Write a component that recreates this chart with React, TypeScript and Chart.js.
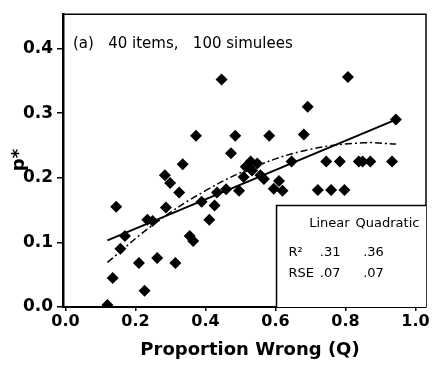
import React, { useEffect, useRef } from "react";
import { Chart, registerables } from "chart.js";

Chart.register(...registerables);

// ---- data ----
const proportionWrong = [
  0.12, 0.135, 0.145, 0.157, 0.17, 0.21, 0.226, 0.234, 0.249, 0.262,
  0.284, 0.299, 0.287, 0.314, 0.325, 0.335, 0.355, 0.365, 0.373, 0.389,
  0.411, 0.426, 0.433, 0.446, 0.459, 0.473, 0.485, 0.496, 0.509, 0.515,
  0.529, 0.533, 0.548, 0.557, 0.567, 0.582, 0.595, 0.61, 0.62, 0.646,
  0.681, 0.692, 0.721, 0.745, 0.759, 0.784, 0.797, 0.807, 0.838, 0.849,
  0.871, 0.933, 0.944,
];
const pStar = [
  0.003, 0.045, 0.155, 0.09, 0.11, 0.068, 0.025, 0.135, 0.133, 0.076,
  0.204, 0.192, 0.154, 0.068, 0.177, 0.221, 0.11, 0.102, 0.265, 0.163,
  0.135, 0.157, 0.177, 0.352, 0.182, 0.238, 0.265, 0.18, 0.201, 0.217,
  0.225, 0.211, 0.222, 0.204, 0.198, 0.265, 0.183, 0.195, 0.18, 0.225,
  0.267, 0.31, 0.181, 0.225, 0.181, 0.225, 0.181, 0.356, 0.225, 0.225,
  0.225, 0.225, 0.29,
];
const linearFitQ = [0.12, 0.944];
const linearFitP = [0.103, 0.29];
const quadFitQ = [0.12, 0.25, 0.4, 0.55, 0.7, 0.85, 0.944];
const quadFitP = [0.069, 0.127, 0.18, 0.219, 0.244, 0.254, 0.252];

const xTicks = [0, 0.2, 0.4, 0.6, 0.8, 1.0];
const yTicks = [0, 0.1, 0.2, 0.3, 0.4];

const panelTitle = "(a)   40 items,   100 simulees";
const xTitle = "Proportion Wrong (Q)";
const yTitle = "p*";
const statColumns = ["Linear", "Quadratic"];
const statRows = ["R²", "RSE"];
const linearStats = [".31", ".07"];
const quadraticStats = [".36", ".07"];

const W = 435;
const H = 376;

const decorPlugin = {
  id: "decor",
  afterDatasetsDraw(chart: any) {
    const { ctx, chartArea: a, scales } = chart;
    const x = scales.x;
    const y = scales.y;
    ctx.save();
    ctx.strokeStyle = "#000";
    ctx.fillStyle = "#000";

    // frame top and right
    ctx.lineWidth = 1.5;
    ctx.beginPath();
    ctx.moveTo(a.left, a.top);
    ctx.lineTo(a.right, a.top);
    ctx.lineTo(a.right, a.bottom);
    ctx.stroke();

    // statistics box
    const bx = x.getPixelForValue(0.603);
    const by = y.getPixelForValue(0.157);
    ctx.fillStyle = "#fff";
    ctx.fillRect(bx, by, a.right - bx, a.bottom - by);
    ctx.fillStyle = "#000";
    ctx.lineWidth = 1.5;
    ctx.beginPath();
    ctx.moveTo(bx, a.bottom);
    ctx.lineTo(bx, by);
    ctx.lineTo(a.right, by);
    ctx.stroke();

    ctx.font = "13px 'DejaVu Sans'";
    ctx.textBaseline = "middle";
    ctx.textAlign = "center";
    const headY = y.getPixelForValue(0.129);
    ctx.fillText(statColumns[0], x.getPixelForValue(0.754), headY);
    ctx.fillText(statColumns[1], x.getPixelForValue(0.92), headY);
    const rowP = [0.084, 0.052];
    statRows.forEach((lab, i) => {
      const ry = y.getPixelForValue(rowP[i]);
      ctx.textAlign = "left";
      ctx.fillText(lab, x.getPixelForValue(0.637), ry);
      ctx.textAlign = "center";
      ctx.fillText(linearStats[i], x.getPixelForValue(0.756), ry);
      ctx.fillText(quadraticStats[i], x.getPixelForValue(0.88), ry);
    });

    // panel title
    ctx.font = "15px 'DejaVu Sans'";
    ctx.textAlign = "left";
    ctx.fillText(panelTitle, a.left + 10, a.top + 30);

    // axis titles
    ctx.font = "bold 18px 'DejaVu Sans'";
    ctx.textAlign = "center";
    ctx.fillText(xTitle, 250, 350);
    ctx.save();
    ctx.translate(19, 160);
    ctx.rotate(-Math.PI / 2);
    ctx.fillText(yTitle, 0, 0);
    ctx.restore();

    ctx.restore();
  },
};

export default function App() {
  const ref = useRef<HTMLCanvasElement | null>(null);

  useEffect(() => {
    if (!ref.current) return;
    const points = proportionWrong.map((q, i) => ({ x: q, y: pStar[i] }));
    const linPts = linearFitQ.map((q, i) => ({ x: q, y: linearFitP[i] }));
    const quadPts = quadFitQ.map((q, i) => ({ x: q, y: quadFitP[i] }));

    const chart = new Chart(ref.current, {
      type: "scatter",
      data: {
        datasets: [
          {
            label: "Linear",
            data: linPts,
            showLine: true,
            borderColor: "#000",
            borderWidth: 2,
            pointRadius: 0,
          },
          {
            label: "Quadratic",
            data: quadPts,
            showLine: true,
            borderColor: "#000",
            borderWidth: 1.5,
            borderDash: [7, 3, 2, 3],
            tension: 0.4,
            pointRadius: 0,
          },
          {
            label: "Items",
            data: points,
            pointStyle: "rectRot",
            pointRadius: 6,
            backgroundColor: "#000",
            borderWidth: 0,
          },
        ],
      },
      options: {
        responsive: false,
        maintainAspectRatio: false,
        animation: false,
        layout: { padding: { top: 13, right: 9, left: 0, bottom: 0 } },
        plugins: {
          legend: { display: false },
          tooltip: { enabled: false },
          title: { display: false },
        },
        scales: {
          x: {
            type: "linear",
            min: -0.007,
            max: 1.03,
            afterFit: (s: any) => {
              s.height = 69;
            },
            afterBuildTicks: (s: any) => {
              s.ticks = xTicks.map((v) => ({ value: v }));
            },
            grid: {
              drawOnChartArea: false,
              drawTicks: true,
              tickLength: 4,
              color: "#000",
              lineWidth: 1.5,
            },
            border: { display: true, color: "#000", width: 2 },
            ticks: {
              color: "#000",
              font: { family: "'DejaVu Sans'", weight: "bold", size: 16, lineHeight: 1 },
              padding: 3,
              maxRotation: 0,
              callback: (v: any) => Number(v).toFixed(1),
            },
          },
          y: {
            type: "linear",
            min: 0,
            max: 0.453,
            afterFit: (s: any) => {
              s.width = 63;
            },
            afterBuildTicks: (s: any) => {
              s.ticks = yTicks.map((v) => ({ value: v }));
            },
            grid: {
              drawOnChartArea: false,
              drawTicks: true,
              tickLength: 6,
              color: "#000",
              lineWidth: 1.5,
            },
            border: { display: true, color: "#000", width: 2.5 },
            ticks: {
              color: "#000",
              font: { family: "'DejaVu Sans'", weight: "bold", size: 17 },
              padding: 4,
              callback: (v: any) => Number(v).toFixed(1),
            },
          },
        },
      },
      plugins: [decorPlugin],
    });
    return () => chart.destroy();
  }, []);

  return (
    <div style={{ position: "absolute", left: 0, top: 0, width: W, height: H, background: "#fff" }}>
      <canvas ref={ref} width={W} height={H} style={{ display: "block", width: W, height: H }} />
    </div>
  );
}
